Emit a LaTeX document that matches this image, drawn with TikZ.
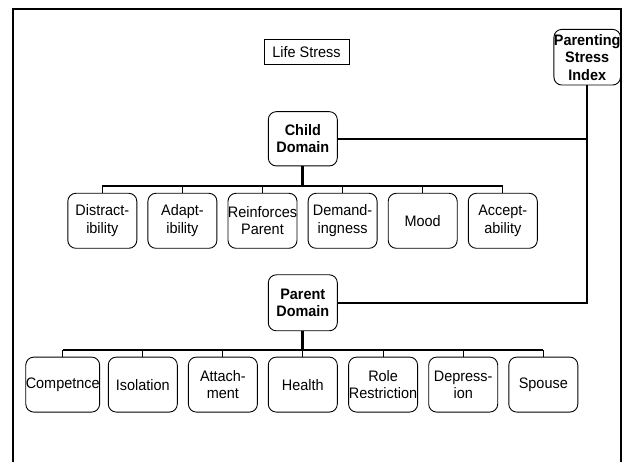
\documentclass[tikz,border=0pt]{standalone}
\usepackage{fontspec}
\setmainfont[FakeStretch=0.95]{Liberation Sans}
\begin{document}
\begin{tikzpicture}[x=1pt,y=-1pt,
  txt/.style={font=\fontsize{15.2}{17.5}\selectfont},
  leaf/.style={txt,draw,rounded corners=8pt,minimum width=69pt,minimum height=55pt,inner sep=0pt,align=center,line width=0.9pt},
  dom/.style={leaf,font=\fontsize{15.2}{17.5}\selectfont\bfseries},
  plainbox/.style={txt,draw,line width=0.8pt,minimum width=85pt,minimum height=25pt,inner sep=0pt},
  trunk/.style={line width=3pt},
  bus/.style={line width=1.8pt},
  stub/.style={line width=1pt},
  link/.style={line width=1.6pt},
  frame/.style={line width=2pt}]
\useasboundingbox (0,0) rectangle (622,462);
% outer frame (open at the bottom)
\draw[frame] (12.5,480) -- (12.5,9) -- (621,9) -- (621,480);

\node[plainbox] (ls) at (306.5,51.7) {Life Stress};
\node[dom,minimum width=65.7pt,minimum height=55.7pt] (psi) at (587.2,57.2) {Parenting\\Stress\\Index};
\node[dom,minimum height=54.3pt] (cd) at (302.8,138.8) {Child\\Domain};
\node[dom,minimum height=56pt] (pd) at (302.8,302.8) {Parent\\Domain};

% child domain leaves
\node[leaf] (c1) at (102.3,220.8) {Distract-\\ibility};
\node[leaf] (c2) at (182.4,220.8) {Adapt-\\ibility};
\node[leaf] (c3) at (262.5,220.8) {Reinforces\\Parent};
\node[leaf] (c4) at (342.6,220.8) {Demand-\\ingness};
\node[leaf] (c5) at (422.7,220.8) {Mood};
\node[leaf] (c6) at (502.8,220.8) {Accept-\\ability};

% parent domain leaves
\node[leaf] (p1) at (62.7,384.6) {Competnce};
\node[leaf] (p2) at (142.8,384.6) {Isolation};
\node[leaf] (p3) at (222.9,384.6) {Attach-\\ment};
\node[leaf] (p4) at (302.8,384.6) {Health};
\node[leaf] (p5) at (383.1,384.6) {Role\\Restriction};
\node[leaf] (p6) at (463.2,384.6) {Depress-\\ion};
\node[leaf] (p7) at (543.3,384.6) {Spouse};

\coordinate (cb) at (302.8,186);
\coordinate (pb) at (302.8,350);

% child tree
\draw[trunk] (cd.south) -- (cb);
\draw[bus] (c1.north |- cb) -- (c6.north |- cb);
\foreach \n in {c1,c2,c3,c4,c5,c6} \draw[stub] (\n.north) -- (\n.north |- cb);

% parent tree
\draw[trunk] (pd.south) -- (pb);
\draw[bus] (p1.north |- pb) -- (p7.north |- pb);
\foreach \n in {p1,p2,p3,p4,p5,p6,p7} \draw[stub] (\n.north) -- (\n.north |- pb);

% links to PSI
\draw[link] (psi.south) |- (pd.east);
\draw[link] (cd.east) -- (cd.east -| psi.south);
\end{tikzpicture}
\end{document}
